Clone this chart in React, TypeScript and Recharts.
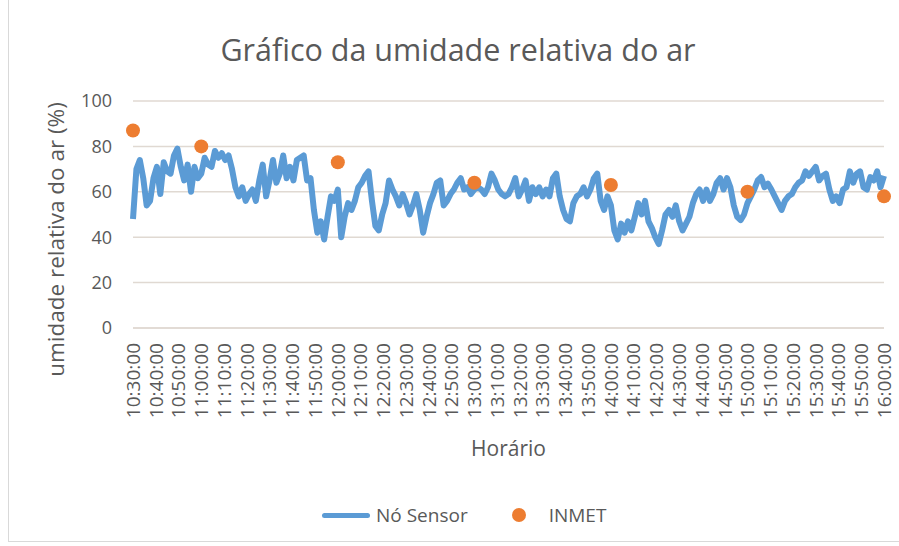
import React from "react";
import {
  ComposedChart,
  Line,
  Scatter,
  XAxis,
  YAxis,
  CartesianGrid,
} from "recharts";

// sensor readings every 1.5 min starting 10:30:00
const sensorStep = 1.5;
const sensorValues = [
  48, 70, 74, 66, 54, 56, 66, 71, 59, 73,
  69, 68, 76, 79, 71, 65, 72, 60, 71, 66,
  68, 75, 72, 71, 78, 75, 77, 74, 76, 70,
  62, 58, 62, 56, 59, 61, 56, 65, 72, 58,
  65, 74, 64, 68, 76, 66, 71, 65, 74, 75,
  76, 65, 66, 52, 42, 47, 39, 49, 58, 56,
  61, 40, 49, 55, 52, 56, 62, 64, 67, 69,
  56, 45, 43, 50, 55, 65, 61, 58, 54, 59,
  55, 50, 54, 59, 52, 42, 49, 55, 59, 64,
  65, 54, 56, 59, 61, 64, 66, 61, 62, 59,
  61, 62, 61, 59, 62, 68, 65, 61, 59, 58,
  59, 62, 66, 58, 61, 65, 56, 62, 59, 62,
  58, 61, 58, 66, 68, 58, 52, 48, 47, 55,
  58, 59, 62, 58, 61, 66, 68, 56, 52, 58,
  54, 43, 39, 46, 42, 47, 43, 49, 55, 50,
  56, 47, 44, 40, 37, 43, 50, 52, 49, 54,
  47, 43, 46, 49, 55, 59, 61, 56, 61, 56,
  59, 64, 66, 61, 66, 62, 54, 49, 47.5, 50,
  55, 58, 61, 65, 66.5, 62, 63.6, 61, 58, 55,
  52, 56, 58, 59, 62, 64, 65, 69, 67, 69,
  71, 65, 67, 68, 61, 56, 58, 55, 61, 62,
  69, 64, 68, 69, 62, 61, 66.5, 65, 69, 62,
  67,
];

const inmetTimes = [
  "10:30:00",
  "11:00:00",
  "12:00:00",
  "13:00:00",
  "14:00:00",
  "15:00:00",
  "16:00:00",
];
const inmetValues = [87, 80, 73, 64, 63, 60, 58];

const xTickLabels = [
  "10:30:00", "10:40:00", "10:50:00", "11:00:00", "11:10:00", "11:20:00",
  "11:30:00", "11:40:00", "11:50:00", "12:00:00", "12:10:00", "12:20:00",
  "12:30:00", "12:40:00", "12:50:00", "13:00:00", "13:10:00", "13:20:00",
  "13:30:00", "13:40:00", "13:50:00", "14:00:00", "14:10:00", "14:20:00",
  "14:30:00", "14:40:00", "14:50:00", "15:00:00", "15:10:00", "15:20:00",
  "15:30:00", "15:40:00", "15:50:00", "16:00:00",
];
const yTicks = [0, 20, 40, 60, 80, 100];

const FONT = "'Open Sans', sans-serif";
const TEXT = "#595959";
const GRID = "#e0d9d2";

const toMinutes = (label: string) => {
  const [h, m, s] = label.split(":").map(Number);
  return (h * 60 + m + s / 60) - (10 * 60 + 30);
};

const fmtTime = (min: number) => {
  const total = Math.round(min * 60) + (10 * 60 + 30) * 60;
  const h = Math.floor(total / 3600);
  const m = Math.floor((total % 3600) / 60);
  const s = total % 60;
  const p = (n: number) => String(n).padStart(2, "0");
  return `${p(h)}:${p(m)}:${p(s)}`;
};

const sensorData = sensorValues.map((v, i) => ({ t: i * sensorStep, sensor: v }));
const inmetData = inmetTimes.map((t, i) => ({ t: toMinutes(t), inmet: inmetValues[i] }));
const xTicks = xTickLabels.map(toMinutes);

const XTick = (props: any) => {
  const { x, y, payload } = props;
  return (
    <text
      x={x}
      y={y}
      transform={`rotate(-90 ${x} ${y})`}
      textAnchor="end"
      dx={-13}
      dy="0.36em"
      fill={TEXT}
      fontSize={19}
      fontFamily={FONT}
    >
      {fmtTime(payload.value)}
    </text>
  );
};

const YTick = (props: any) => {
  const { x, y, payload } = props;
  return (
    <text
      x={x - 19}
      y={y}
      textAnchor="end"
      dy="0.36em"
      fill={TEXT}
      fontSize={18}
      fontFamily={FONT}
    >
      {payload.value}
    </text>
  );
};

const XLabel = (props: any) => {
  const { x, y, width, height } = props.viewBox;
  return (
    <text
      x={x + width / 2}
      y={y + height + 20}
      textAnchor="middle"
      dy="0.36em"
      fill={TEXT}
      fontSize={21}
      fontFamily={FONT}
    >
      Horário
    </text>
  );
};

const YLabel = (props: any) => {
  const { x, y, height } = props.viewBox;
  const cx = x - 7;
  const cy = y + height / 2 + 25;
  return (
    <text
      x={cx}
      y={cy}
      transform={`rotate(-90 ${cx} ${cy})`}
      textAnchor="middle"
      dy="0.36em"
      fill={TEXT}
      fontSize={22.5}
      fontFamily={FONT}
    >
      umidade relativa do ar (%)
    </text>
  );
};

const Dot = (props: any) => {
  const { cx, cy } = props;
  return <circle cx={cx} cy={cy} r={7} fill="#ed7d31" />;
};

const ChartLegend = () => (
  <div
    style={{
      position: "absolute",
      top: 503,
      left: 322,
      height: 24,
      display: "flex",
      alignItems: "center",
      fontFamily: FONT,
      fontSize: 19,
      color: TEXT,
    }}
  >
    <span
      style={{
        display: "inline-block",
        width: 48,
        height: 5,
        borderRadius: 3,
        background: "#5b9bd5",
        marginRight: 6,
      }}
    />
    <span>Nó Sensor</span>
    <span
      style={{
        display: "inline-block",
        width: 14,
        height: 14,
        borderRadius: 7,
        background: "#ed7d31",
        marginLeft: 44,
        marginRight: 23,
      }}
    />
    <span>INMET</span>
  </div>
);

export default function App() {
  return (
    <div
      style={{
        position: "absolute",
        left: 0,
        top: 0,
        width: 899,
        height: 546,
        background: "#fff",
        fontFamily: FONT,
      }}
    >
      <div
        style={{
          position: "absolute",
          left: 8,
          top: 0,
          width: 891,
          height: 541,
          borderLeft: "1px solid #d9d9d9",
          borderBottom: "1px solid #d9d9d9",
        }}
      />
      <div
        style={{
          position: "absolute",
          top: 27,
          left: 0,
          width: 916,
          textAlign: "center",
          fontSize: 30.5,
          lineHeight: "44px",
          color: TEXT,
        }}
      >
        Gráfico da umidade relativa do ar
      </div>
      <ComposedChart
        width={899}
        height={546}
        margin={{ top: 101, right: 15, left: 63, bottom: 118 }}
        style={{ position: "absolute", left: 0, top: 0 }}
      >
        <CartesianGrid vertical={false} stroke={GRID} strokeWidth={1.5} />
        <XAxis
          type="number"
          dataKey="t"
          domain={[0, 330]}
          ticks={xTicks}
          interval={0}
          height={100}
          tickSize={0}
          tickLine={false}
          axisLine={{ stroke: GRID, strokeWidth: 1.5 }}
          tick={<XTick />}
          label={<XLabel />}
        />
        <YAxis
          type="number"
          domain={[0, 100]}
          ticks={yTicks}
          width={70}
          tickSize={0}
          tickLine={false}
          axisLine={false}
          tick={<YTick />}
          label={<YLabel />}
        />
        <Line
          data={sensorData}
          dataKey="sensor"
          name="Nó Sensor"
          type="linear"
          stroke="#5b9bd5"
          strokeWidth={6}
          strokeLinejoin="round"
          dot={false}
          isAnimationActive={false}
        />
        <Scatter
          data={inmetData}
          dataKey="inmet"
          name="INMET"
          shape={<Dot />}
          isAnimationActive={false}
        />
      </ComposedChart>
      <ChartLegend />
    </div>
  );
}
